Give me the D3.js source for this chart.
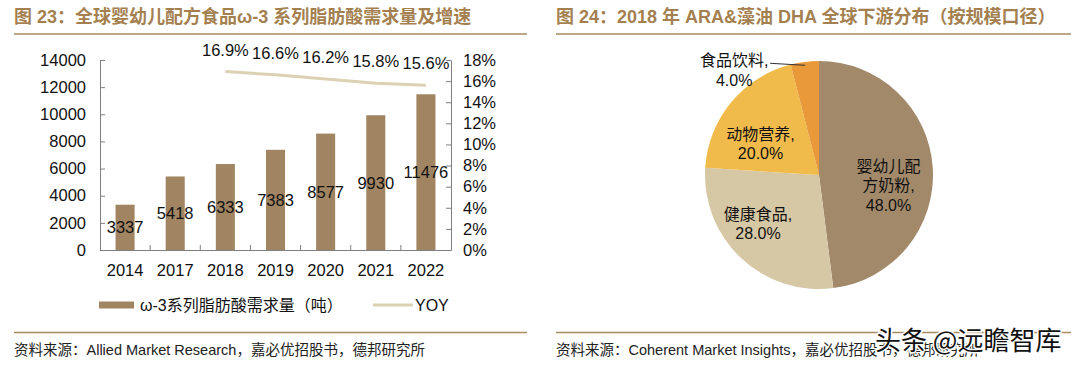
<!DOCTYPE html>
<html lang="zh">
<head>
<meta charset="utf-8">
<title>ω-3 需求量 / ARA&DHA 下游分布</title>
<script src="https://cdnjs.cloudflare.com/ajax/libs/d3/7.8.5/d3.min.js"></script>
<style>
  body { margin: 0; background: #fff; }
  svg { display: block; font-family: "Liberation Sans", Arial, "Noto Sans CJK SC", sans-serif; }
</style>
</head>
<body>
<script>
// ---- data ----
var years = ["2014", "2017", "2018", "2019", "2020", "2021", "2022"];
var demand = [3337, 5418, 6333, 7383, 8577, 9930, 11476];
var yoyYears = ["2018", "2019", "2020", "2021", "2022"];
var yoy = [16.9, 16.6, 16.2, 15.8, 15.6];
var leftTicks = [0, 2000, 4000, 6000, 8000, 10000, 12000, 14000];
var rightTicks = [0, 2, 4, 6, 8, 10, 12, 14, 16, 18];

var pieNames = ["婴幼儿配方奶粉", "健康食品", "动物营养", "食品饮料"];
var pieShares = [48, 28, 20, 4];

var title1 = "图 23：全球婴幼儿配方食品ω-3 系列脂肪酸需求量及增速";
var title2 = "图 24：2018 年 ARA&藻油 DHA 全球下游分布（按规模口径）";
var source1 = "资料来源：Allied Market Research，嘉必优招股书，德邦研究所";
var source2 = "资料来源：Coherent Market Insights，嘉必优招股书，德邦研究所";
var legend1 = ["ω-3系列脂肪酸需求量（吨）", "YOY"];

var W = 1080, H = 366;
var titleColor = "#a47f50", ruleColor = "#a58a62";
var barColor = "#a18562", lineColor = "#dcd1b3";
var pieColors = ["#a2896a", "#d7c8a5", "#f1bb4b", "#e9983a"];

var svg = d3.select("body").append("svg").attr("width", W).attr("height", H);

// ---- headers / footers ----
function frame(x0, x1, title, source) {
    svg.append("text").attr("x", x0).attr("y", 23)
        .attr("font-size", 18).attr("font-weight", "bold").attr("fill", titleColor)
        .text(title);
    svg.append("line").attr("x1", x0).attr("x2", x1).attr("y1", 34).attr("y2", 34)
        .attr("stroke", ruleColor).attr("stroke-width", 1.5);
    svg.append("line").attr("x1", x0).attr("x2", x1).attr("y1", 332.5).attr("y2", 332.5)
        .attr("stroke", ruleColor).attr("stroke-width", 1.5);
    svg.append("text").attr("x", x0).attr("y", 355)
        .attr("font-size", 14.5).attr("fill", "#222")
        .text(source);
}
frame(14, 527, title1, source1);
frame(556, 1071, title2, source2);

// ---- bar + line chart ----
var plotL = 100, plotR = 451, plotT = 60, plotB = 250;

var x = d3.scaleBand().domain(years).range([plotL, plotR]).padding(0);
var y = d3.scaleLinear().domain([0, 14000]).range([plotB, plotT]);
var y2 = d3.scaleLinear().domain([0, 18]).range([plotB, plotT]);
var barW = x.bandwidth() * 0.38;

var g = svg.append("g");

g.selectAll("rect.bar")
    .data(demand)
    .enter()
    .append("rect")
    .attr("class", "bar")
    .attr("x", function(d, i){ return x(years[i]) + (x.bandwidth() - barW) / 2; })
    .attr("y", function(d){ return y(d); })
    .attr("width", barW)
    .attr("height", function(d){ return y(0) - y(d); })
    .attr("fill", barColor);

g.selectAll("text.barlabel")
    .data(demand)
    .enter()
    .append("text")
    .attr("class", "barlabel")
    .attr("x", function(d, i){ return x(years[i]) + x.bandwidth() / 2; })
    .attr("y", function(d){ return (y(d) + y(0)) / 2; })
    .attr("dy", "0.36em")
    .attr("text-anchor", "middle")
    .attr("font-size", 16.5)
    .attr("fill", "#111")
    .text(function(d){ return d; });

var line = d3.line()
    .x(function(d, i){ return x(yoyYears[i]) + x.bandwidth() / 2; })
    .y(function(d){ return y2(d); });

g.append("path")
    .datum(yoy)
    .attr("d", line)
    .attr("fill", "none")
    .attr("stroke", lineColor)
    .attr("stroke-width", 3);

g.selectAll("text.yoylabel")
    .data(yoy)
    .enter()
    .append("text")
    .attr("class", "yoylabel")
    .attr("x", function(d, i){ return x(yoyYears[i]) + x.bandwidth() / 2; })
    .attr("y", function(d){ return y2(d) - 16; })
    .attr("text-anchor", "middle")
    .attr("font-size", 16.5)
    .attr("fill", "#111")
    .text(function(d){ return d.toFixed(1) + "%"; });

// axes
var axisColor = "#7f7f7f";
var yAxis = d3.axisLeft(y).tickValues(leftTicks).tickSize(-5).tickPadding(14).tickSizeOuter(0)
    .tickFormat(d3.format("d"));
var y2Axis = d3.axisRight(y2).tickValues(rightTicks).tickSize(-5).tickPadding(12).tickSizeOuter(0)
    .tickFormat(function(d){ return d + "%"; });
var xAxis = d3.axisBottom(x).tickSize(0).tickPadding(14);

function styleAxis(sel) {
    sel.select(".domain").attr("stroke", axisColor);
    sel.selectAll(".tick line").attr("stroke", axisColor);
    sel.selectAll(".tick text").attr("font-size", 16.5).attr("fill", "#111")
        .attr("font-family", "Liberation Sans, Arial, sans-serif");
}

svg.append("g").attr("transform", "translate(" + plotL + ",0)").call(yAxis).call(styleAxis);
svg.append("g").attr("transform", "translate(" + plotR + ",0)").call(y2Axis).call(styleAxis);
svg.append("g").attr("transform", "translate(0," + plotB + ")").call(xAxis).call(styleAxis);

// category separator ticks on x axis
svg.append("g").selectAll("line")
    .data(years.slice(1))
    .enter()
    .append("line")
    .attr("x1", function(d){ return x(d); })
    .attr("x2", function(d){ return x(d); })
    .attr("y1", plotB)
    .attr("y2", plotB - 5)
    .attr("stroke", axisColor);

// legend
var lg = svg.append("g").attr("transform", "translate(0,305)");
lg.append("rect").attr("x", 99).attr("y", -3.5).attr("width", 35).attr("height", 7).attr("fill", barColor);
lg.append("text").attr("x", 140).attr("y", 0).attr("dy", "0.36em").attr("font-size", 16).attr("fill", "#111")
    .text(legend1[0]);
lg.append("line").attr("x1", 373).attr("x2", 413).attr("y1", 0).attr("y2", 0)
    .attr("stroke", lineColor).attr("stroke-width", 3);
lg.append("text").attr("x", 415).attr("y", 0).attr("dy", "0.36em").attr("font-size", 16).attr("fill", "#111")
    .text(legend1[1]);

// ---- pie ----
var cx = 819, cy = 175, R = 114;
var pie = d3.pie().sort(null).value(function(d){ return d; });
var arcs = pie(pieShares);
var arc = d3.arc().innerRadius(0).outerRadius(R);

var pg = svg.append("g").attr("transform", "translate(" + cx + "," + cy + ")");
pg.selectAll("path")
    .data(arcs)
    .enter()
    .append("path")
    .attr("d", arc)
    .attr("fill", function(d, i){ return pieColors[i]; });

// label layout: [radius factor, dx, dy] relative to slice centroid
var labelLayout = [[0.62, -1, 15], [0.68, -8, -8], [0.62, -4, 14]];
function labelLines(i) {
    var name = pieNames[i] + ",";
    var lines = name.length > 6 ? [name.slice(0, 4), name.slice(4)] : [name];
    lines.push(pieShares[i].toFixed(1) + "%");
    return lines;
}

arcs.forEach(function(a, i) {
    var lines = labelLines(i);
    var t = pg.append("text").attr("text-anchor", "middle").attr("font-size", 16).attr("fill", "#111");
    var cxy, lh = 19.5;
    if (i < labelLayout.length) {
        var L = labelLayout[i];
        var c = d3.arc().innerRadius(R * L[0]).outerRadius(R * L[0]).centroid(a);
        cxy = [c[0] + L[1], c[1] + L[2]];
    } else {
        // outside label with leader line
        var edge = d3.arc().innerRadius(R * 0.97).outerRadius(R * 0.97).centroid(a);
        var lx = edge[0] - 35;
        pg.append("line").attr("x1", lx).attr("y1", edge[1] - 2).attr("x2", edge[0]).attr("y2", edge[1])
            .attr("stroke", "#333").attr("stroke-width", 1);
        cxy = [lx - 36, edge[1] + 5];
    }
    var top = cxy[1] - (lines.length - 1) * lh / 2;
    lines.forEach(function(s, k) {
        t.append("tspan").attr("x", cxy[0]).attr("y", top + k * lh).attr("dy", "0.36em").text(s);
    });
});

// watermark (overlaps the source line, as in the original)
svg.append("text").attr("x", 875).attr("y", 350)
    .attr("font-family", "Noto Sans CJK SC, sans-serif")
    .attr("font-size", 26).attr("fill", "#111")
    .attr("stroke", "#fff").attr("stroke-width", 3).attr("paint-order", "stroke")
    .text("头条 @远瞻智库");
</script>
</body>
</html>
